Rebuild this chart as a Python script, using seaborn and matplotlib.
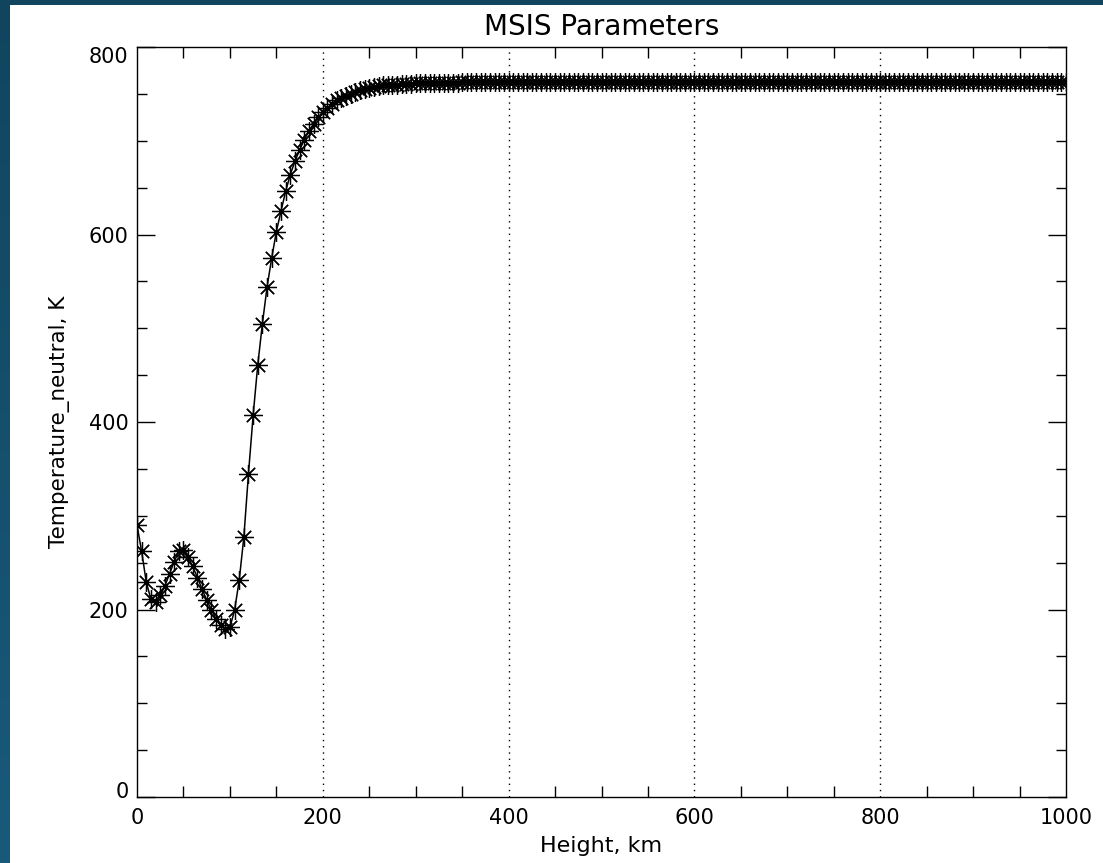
import numpy as np
import matplotlib
matplotlib.use("Agg")
import matplotlib.pyplot as plt
import matplotlib.transforms as mtransforms
from matplotlib.ticker import FixedLocator
import seaborn as sns

# ---- data ----
heights_km = [
    0, 5, 10, 15, 20, 25, 30, 35, 40, 45,
    50, 55, 60, 65, 70, 75, 80, 85, 90, 95,
    100, 105, 110, 115, 120, 125, 130, 135, 140, 145,
    150, 155, 160, 165, 170, 175, 180, 185, 190, 195,
    200, 205, 210, 215, 220, 225, 230, 235, 240, 245,
    250, 255, 260, 265, 270, 275, 280, 285, 290, 295,
    300, 305, 310, 315, 320, 325, 330, 335, 340, 345,
    350, 355, 360, 365, 370, 375, 380, 385, 390, 395,
    400, 405, 410, 415, 420, 425, 430, 435, 440, 445,
    450, 455, 460, 465, 470, 475, 480, 485, 490, 495,
    500, 505, 510, 515, 520, 525, 530, 535, 540, 545,
    550, 555, 560, 565, 570, 575, 580, 585, 590, 595,
    600, 605, 610, 615, 620, 625, 630, 635, 640, 645,
    650, 655, 660, 665, 670, 675, 680, 685, 690, 695,
    700, 705, 710, 715, 720, 725, 730, 735, 740, 745,
    750, 755, 760, 765, 770, 775, 780, 785, 790, 795,
    800, 805, 810, 815, 820, 825, 830, 835, 840, 845,
    850, 855, 860, 865, 870, 875, 880, 885, 890, 895,
    900, 905, 910, 915, 920, 925, 930, 935, 940, 945,
    950, 955, 960, 965, 970, 975, 980, 985, 990, 995,
    1000,
]
temperature_K = [
    290, 262, 229, 211, 208, 215, 225, 238, 251, 262,
    264, 256, 246, 234, 222, 210, 200, 190, 183, 179,
    181, 199, 231, 277, 345, 407, 461, 505, 544, 575,
    603, 625, 646, 664, 678, 690, 701, 710, 718, 725,
    731, 735, 739, 743, 746, 748, 750, 752, 754, 755,
    756, 757, 758, 759, 759, 760, 760, 761, 761, 761,
    762, 762, 762, 762, 762, 762, 762, 762, 762, 762,
    763, 763, 763, 763, 763, 763, 763, 763, 763, 763,
    763, 763, 763, 763, 763, 763, 763, 763, 763, 763,
    763, 763, 763, 763, 763, 763, 763, 763, 763, 763,
    763, 763, 763, 763, 763, 763, 763, 763, 763, 763,
    763, 763, 763, 763, 763, 763, 763, 763, 763, 763,
    763, 763, 763, 763, 763, 763, 763, 763, 763, 763,
    763, 763, 763, 763, 763, 763, 763, 763, 763, 763,
    763, 763, 763, 763, 763, 763, 763, 763, 763, 763,
    763, 763, 763, 763, 763, 763, 763, 763, 763, 763,
    763, 763, 763, 763, 763, 763, 763, 763, 763, 763,
    763, 763, 763, 763, 763, 763, 763, 763, 763, 763,
    763, 763, 763, 763, 763, 763, 763, 763, 763, 763,
    763, 763, 763, 763, 763, 763, 763, 763, 763, 763,
    763,
]
x_major_ticks = [0, 200, 400, 600, 800, 1000]
y_major_ticks = [0, 200, 400, 600, 800]
x_minor_ticks = [50, 100, 150, 250, 300, 350, 450, 500, 550, 650, 700, 750,
                 850, 900, 950]
y_minor_ticks = [50, 100, 150, 250, 300, 350, 450, 500, 550, 650, 700, 750]
x_grid_positions = [200, 400, 600, 800]

title_text = "MSIS Parameters"
x_label = "Height, km"
y_label = "Temperature_neutral, K"

# ---- figure ----
sns.set_theme(style="white")
plt.rcParams["font.family"] = ["DejaVu Sans"]
plt.rcParams["axes.edgecolor"] = "black"
plt.rcParams["axes.labelcolor"] = "black"
plt.rcParams["text.color"] = "black"
plt.rcParams["xtick.color"] = "black"
plt.rcParams["ytick.color"] = "black"

W, H, DPI = 1103, 863, 100
fig = plt.figure(figsize=(W / DPI, H / DPI), dpi=DPI, facecolor="white")

# dark blue strips along the left and top edges (frame of the original page)
top_c = np.array([17, 69, 94]) / 255.0
bot_c = np.array([25, 90, 122]) / 255.0
left_h, left_w = H, 10
t = np.linspace(0, 1, left_h)[:, None, None]
left_strip = (top_c[None, None, :] * (1 - t) + bot_c[None, None, :] * t) * np.ones((left_h, left_w, 3))
fig.figimage(left_strip, xo=0, yo=0, origin="upper", zorder=0)
top_strip = np.ones((5, W, 3)) * top_c[None, None, :]
fig.figimage(top_strip, xo=0, yo=H - 5, origin="upper", zorder=0)

ax_l, ax_r, ax_t, ax_b = 137, 1066, 47, 797
ax = fig.add_axes([ax_l / W, 1 - ax_b / H, (ax_r - ax_l) / W, (ax_b - ax_t) / H])
ax.set_facecolor("white")

sns.lineplot(x=heights_km, y=temperature_K, ax=ax, color="black",
             linewidth=1.1, marker=(8, 2, 0), markersize=13.5,
             markeredgewidth=0.9, markeredgecolor="black", sort=False,
             estimator=None)

ax.set_xlim(0, 1000)
ax.set_ylim(0, 800)

for xg in x_grid_positions:
    ax.axvline(xg, color="black", linewidth=1.0, linestyle=(0, (1, 3.5)), zorder=1)

ax.xaxis.set_major_locator(FixedLocator(x_major_ticks))
ax.yaxis.set_major_locator(FixedLocator(y_major_ticks))
ax.xaxis.set_minor_locator(FixedLocator(x_minor_ticks))
ax.yaxis.set_minor_locator(FixedLocator(y_minor_ticks))

for s in ax.spines.values():
    s.set_color("black")
    s.set_linewidth(1.0)

ax.tick_params(axis="x", which="major", direction="in", length=0, pad=8,
               labelsize=15, top=True, bottom=True)
ax.tick_params(axis="x", which="minor", direction="in", length=8, width=1.0,
               top=True, bottom=True)
ax.tick_params(axis="y", which="major", direction="in", length=13, width=1.0,
               pad=6, labelsize=15, left=True, right=True)
ax.tick_params(axis="y", which="minor", direction="in", length=7.5, width=1.0,
               left=True, right=True)

ax.set_title(title_text, fontsize=20, pad=8.5)
ax.set_xlabel(x_label, fontsize=16)
ax.set_ylabel(y_label, fontsize=15.5)
ax.xaxis.set_label_coords(0.5, -(836 - ax_b) / (ax_b - ax_t))
ax.yaxis.set_label_coords(-(ax_l - 70) / (ax_r - ax_l), 0.5)

# IDL shifts the end labels of the y axis inward
yt = ax.yaxis.get_major_ticks()
shift = 7.5 / DPI
yt[0].label1.set_transform(yt[0].label1.get_transform() +
                           mtransforms.ScaledTranslation(0, shift, fig.dpi_scale_trans))
yt[-1].label1.set_transform(yt[-1].label1.get_transform() +
                            mtransforms.ScaledTranslation(0, -shift, fig.dpi_scale_trans))

fig.savefig("out.png", dpi=DPI, facecolor=fig.get_facecolor())
